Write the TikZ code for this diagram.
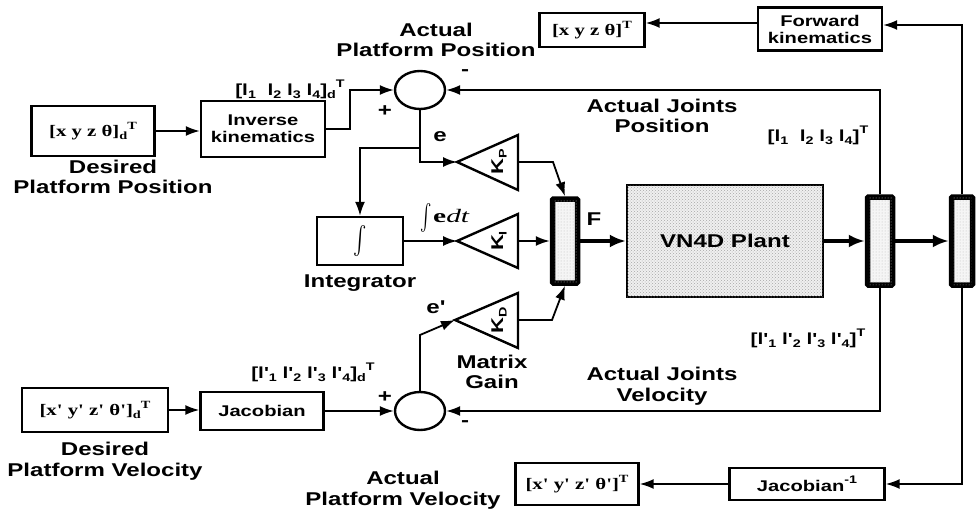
\documentclass[tikz,border=0pt]{standalone}
\usepackage{fontspec}
\usepackage{graphicx}
\setmainfont{Liberation Sans}
\newfontfamily\lab[FakeStretch=1.3]{Liberation Sans}
\newfontfamily\serf[FakeStretch=1.3]{Liberation Serif}
\newfontfamily\serfw[FakeStretch=1.55]{Liberation Serif}
\usetikzlibrary{arrows.meta,shapes.geometric,patterns}
\newcommand\lo[1]{\raisebox{-0.4ex}{\fontsize{11}{11}\selectfont #1}}
\newcommand\hi[1]{\raisebox{0.95ex}{\fontsize{11}{11}\selectfont #1}}
\tikzset{
  wire/.style={line width=1.8pt},
  arr/.style={wire,-{Latex[length=14pt,width=10pt]}},
  thickarr/.style={line width=3.4pt,-{Latex[length=16pt,width=13pt]}},
  blk/.style={draw,line width=2.4pt,inner sep=0pt,font=\lab\bfseries\fontsize{15.5}{17}\selectfont,align=center},
  vec/.style={draw,line width=2.4pt,inner sep=0pt,font=\serf\bfseries\fontsize{16}{18}\selectfont},
  sumnode/.style={draw,ellipse,line width=2.4pt,minimum width=50pt,minimum height=38pt,inner sep=0pt},
  muxbar/.style={draw,line width=5.5pt,fill=gray!8,postaction={pattern=dots,pattern color=gray!55},inner sep=0pt,rounded corners=1pt},
  lbl/.style={font=\lab\bfseries\fontsize{18.5}{20.5}\selectfont,align=center,inner sep=0pt},
  sig/.style={font=\lab\bfseries\fontsize{16}{18}\selectfont,inner sep=0pt},
  gainlbl/.style={font=\lab\bfseries\fontsize{17}{18}\selectfont,rotate=90,inner sep=0pt},
  gaintri/.style={line width=2.4pt,line join=miter}
}
\begin{document}
\begin{tikzpicture}[x=1pt,y=-1pt]
\useasboundingbox (0,0) rectangle (976,513);
% blocks
\node[vec,minimum width=123pt,minimum height=50pt] (dpos) at (93,131) {[x y z θ]\lo{d}\hi{T}};
\node[blk,minimum width=124pt,minimum height=56pt] (ik) at (263,129) {Inverse\\kinematics};
\node[blk,minimum width=124pt,minimum height=43pt] (fk) at (820,29) {Forward\\kinematics};
\node[vec,minimum width=105pt,minimum height=34pt] (xyz) at (592,30) {[x y z θ]\hi{T}};
\node[draw,line width=2.4pt,minimum width=196pt,minimum height=112pt,fill=gray!12,postaction={pattern=crosshatch dots,pattern color=gray!70},font=\lab\bfseries\fontsize{18.5}{20}\selectfont] (plant) at (725,241) {VN4D Plant};
\node[draw,line width=2.4pt,minimum width=86pt,minimum height=48pt,inner sep=0pt] (int) at (360,241) {\scalebox{2}[2.8]{$\int$}};
\node[blk,minimum width=123pt,minimum height=38pt] (jac) at (262,411) {Jacobian};
\node[vec,minimum width=146pt,minimum height=44pt] (dvel) at (95,410) {[x' y' z' θ']\lo{d}\hi{T}};
\node[blk,minimum width=155pt,minimum height=32pt] (jinv) at (807,484) {Jacobian\hi{-1}};
\node[vec,minimum width=123pt,minimum height=42pt] (xyzv) at (577,484) {[x' y' z' θ']\hi{T}};
\node[muxbar,minimum width=25pt,minimum height=84pt] (mux) at (565,241) {};
\node[muxbar,minimum width=25pt,minimum height=88pt] (dm1) at (880,241) {};
\node[muxbar,minimum width=21pt,minimum height=88pt] (dm2) at (962,241) {};
\node[sumnode] (s1) at (420,90) {};
\node[sumnode] (s2) at (420,411) {};
% gains
\coordinate (kpt) at (457,162); \coordinate (kit) at (457,241); \coordinate (kdt) at (455,320);
\coordinate (kpo) at (518,162); \coordinate (kio) at (518,241); \coordinate (kdo) at (518,320);
\draw[gaintri] (kpt) -- (518,135) -- (518,190) -- cycle;
\draw[gaintri] (kit) -- (518,214) -- (518,268) -- cycle;
\draw[gaintri] (kdt) -- (518,293) -- (518,348) -- cycle;
\node[gainlbl] (kp) at (499,162) {K\lo{P}};
\node[gainlbl] (ki) at (499,241) {K\lo{I}};
\node[gainlbl] (kd) at (499,320) {K\lo{D}};
% labels
\node[lbl] (l1) at (436,40) {Actual\\Platform Position};
\node[lbl] (l2) at (113,177) {Desired\\Platform Position};
\node[lbl] (l3) at (662,116) {Actual Joints\\Position};
\node[lbl] (l4) at (662,386) {Actual Joints\\Velocity};
\node[lbl] (l5) at (403,490) {Actual\\Platform Velocity};
\node[lbl] (l6) at (105,461) {Desired\\Platform Velocity};
\node[lbl] (l7) at (360,283) {Integrator};
\node[lbl] (l8) at (492,372) {Matrix\\Gain};
\node[lbl] (lF) at (594,219) {F};
\node[lbl] (le) at (440,137) {e};
\node[lbl] (led) at (436,307) {e'};
\node[inner sep=0pt] (lint) at (445,218) {\raisebox{-2pt}{\scalebox{1.7}[2.6]{$\int$}}\kern1pt{\serfw\fontsize{19}{19}\selectfont{\bfseries e}{\itshape dt}}};
\node[lbl] (p1) at (385,111) {+};
\node[lbl] (m1) at (465,73) {-};
\node[lbl] (p2) at (385,397) {+};
\node[lbl] (m2) at (465,424) {-};
\node[sig] (q1) at (290,89) {[l\lo{1} ~l\lo{2} l\lo{3} l\lo{4}]\lo{d}\hi{T}};
\node[sig] (q2) at (818,135) {[l\lo{1} ~l\lo{2} l\lo{3} l\lo{4}]\hi{T}};
\node[sig] (q3) at (808,338) {[l'\lo{1} l'\lo{2} l'\lo{3} l'\lo{4}]\hi{T}};
\node[sig] (q4) at (313,372) {[l'\lo{1} l'\lo{2} l'\lo{3} l'\lo{4}]\lo{d}\hi{T}};
% connectors
\draw[arr] (dpos) -- (dpos -| ik.west);
\draw[arr] (ik.east) -- ++(24,0) |- (s1.west);
\draw[arr] (dm1.north) |- (s1.east);
\coordinate (jn) at (s1.south |- 0,148);
\draw[arr] (s1.south) |- (kpt);
\draw[arr] (jn) -| (int.north);
\draw[arr] (int.east) -- (kit);
\draw[arr] (kpo) -- (553,162) -- (mux.north);
\draw[arr] (kio) -- (mux.west |- kio);
\draw[arr] (kdo) -- (552,320) -- (mux.south);
\draw[thickarr] (mux.east) -- (plant.west);
\draw[thickarr] (plant.east) -- (dm1.west);
\draw[thickarr] (dm1.east) -- (dm2.west);
\draw[arr] (dm2.north) |- ([yshift=4pt]fk.east);
\draw[arr] ([yshift=6pt]fk.west) -- ([yshift=6pt]fk.west -| xyz.east);
\draw[arr] (dm1.south) |- (s2.east);
\draw[arr] (dm2.south) |- (jinv.east);
\draw[arr] (jinv.west) -- (jinv.west -| xyzv.east);
\draw[arr] (dvel.east) -- (dvel.east -| jac.west);
\draw[arr] (jac.east) -- (s2.west);
\draw[arr] (s2.north) -- (420,335) -- (kdt);
\end{tikzpicture}
\end{document}
